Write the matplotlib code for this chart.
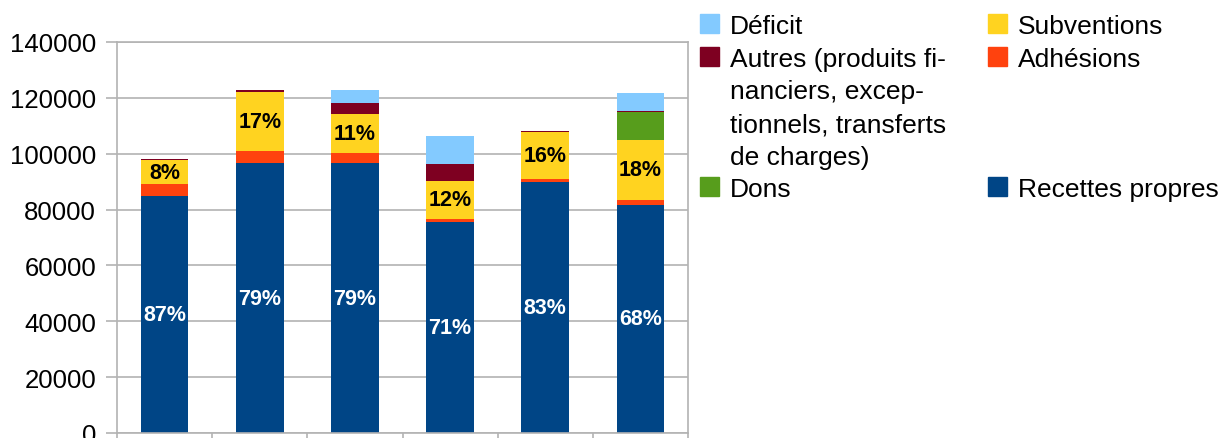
import matplotlib
matplotlib.use("Agg")
import matplotlib.pyplot as plt
from matplotlib.patches import Rectangle
import numpy as np

plt.rcParams['font.family'] = ['Liberation Sans', 'DejaVu Sans']

# valeurs (en euros)
recettes = [85000, 96500, 96500, 75400, 89700, 81800]
adhesions = [4300, 4300, 3600, 1400, 1100, 1800]
subventions = [8300, 21200, 14000, 13300, 16800, 21200]
dons = [0, 0, 0, 0, 0, 10000]
autres = [600, 800, 3900, 6100, 400, 400]
deficit = [0, 0, 4700, 10000, 0, 6400]

pct_recettes = ["87%", "79%", "79%", "71%", "83%", "68%"]
pct_subventions = ["8%", "17%", "11%", "12%", "16%", "18%"]

couleurs = {
    "Recettes propres": "#004586",
    "Adhésions": "#ff420e",
    "Subventions": "#ffd320",
    "Dons": "#579d1c",
    "Autres": "#7e0021",
    "Déficit": "#83caff",
}

W, H = 1222, 439
fig = plt.figure(figsize=(W / 100, H / 100), dpi=100)
ax = fig.add_axes([117 / W, 1 - 434 / H, (688 - 117) / W, (434 - 43) / H])

x = np.arange(len(recettes))
series = [
    ("Recettes propres", recettes),
    ("Adhésions", adhesions),
    ("Subventions", subventions),
    ("Dons", dons),
    ("Autres", autres),
    ("Déficit", deficit),
]
bottom = np.zeros(len(x))
for nom, vals in series:
    vals = np.array(vals, dtype=float)
    ax.bar(x, vals, 0.5, bottom=bottom, color=couleurs[nom], zorder=2)
    if nom == "Recettes propres":
        for i in range(len(x)):
            ax.text(x[i], bottom[i] + vals[i] / 2, pct_recettes[i], ha='center', va='center',
                    color='white', fontsize=15.5, fontweight='bold', zorder=3)
    if nom == "Subventions":
        for i in range(len(x)):
            ax.text(x[i], bottom[i] + vals[i] / 2, pct_subventions[i], ha='center', va='center',
                    color='black', fontsize=15.5, fontweight='bold', zorder=3)
    bottom += vals

ax.set_xlim(-0.5, len(x) - 0.5)
ax.set_ylim(0, 140000)
ax.set_yticks(np.arange(0, 140001, 20000))
ax.yaxis.grid(True, color='#b3b3b3', linewidth=1.2, zorder=0)
ax.set_xticks(np.arange(-0.5, len(x), 1.0))
ax.set_xticklabels([])
ax.tick_params(axis='x', length=8, color='#b3b3b3', width=1.2)
ax.tick_params(axis='y', length=8, color='#b3b3b3', width=1.2, labelsize=18.5, pad=7)
for s in ax.spines.values():
    s.set_color('#b3b3b3')
    s.set_linewidth(1.2)

# légende à deux colonnes
col1 = [("Déficit", ["Déficit"]),
        ("Autres", ["Autres (produits fi-", "nanciers, excep-", "tionnels, transferts", "de charges)"]),
        ("Dons", ["Dons"])]
col2 = [("Subventions", ["Subventions"]),
        ("Adhésions", ["Adhésions"]),
        ("Recettes propres", ["Recettes propres"])]
row_h = 32.7
y0 = 24.4
sq = 19
for cx, tx, col, rows in [(700, 730, col1, [0, 1, 5]), (988, 1018, col2, [0, 1, 5])]:
    for (nom, lignes), r in zip(col, rows):
        yc = y0 + r * row_h
        fig.add_artist(Rectangle((cx / W, 1 - (yc + sq / 2) / H), sq / W, sq / H,
                                 transform=fig.transFigure, color=couleurs[nom]))
        for k, ligne in enumerate(lignes):
            fig.text(tx / W, 1 - (yc + k * row_h) / H, ligne, ha='left', va='center_baseline',
                     fontsize=19)

fig.savefig("out.png", dpi=100)
